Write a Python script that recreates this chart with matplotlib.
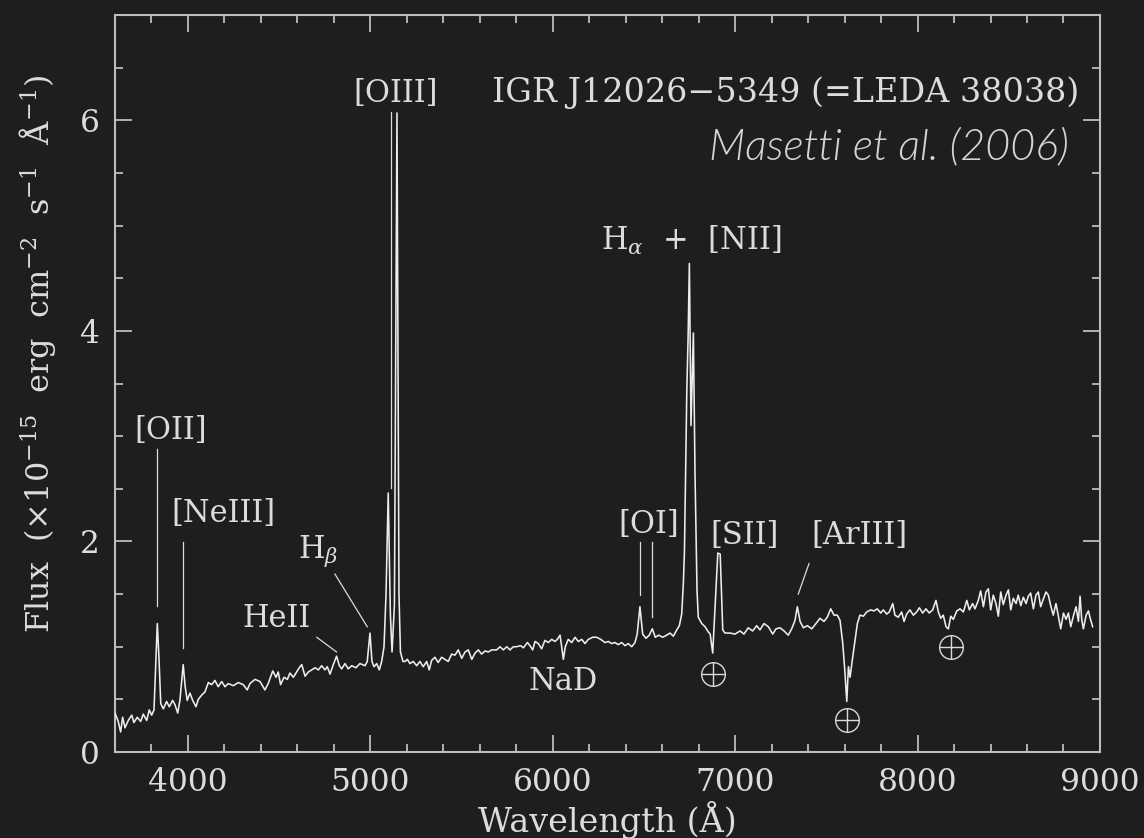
import matplotlib
matplotlib.use("Agg")
import matplotlib.pyplot as plt
from matplotlib.ticker import MultipleLocator

# ------------------------------------------------------------------
# Optical spectrum, wavelength (A) and flux (1e-15 erg/cm2/s/A)
# ------------------------------------------------------------------
wave = [
    3600, 3618, 3631, 3642, 3655, 3673, 3692, 3704, 3722, 3741, 3755, 3774,
    3788, 3801, 3814, 3825, 3832, 3841, 3851, 3865, 3883, 3898, 3916, 3929,
    3944, 3956, 3966, 3974, 3985, 3996, 4011, 4026, 4044, 4057, 4075, 4093,
    4112, 4130, 4148, 4166, 4185, 4203, 4221, 4249, 4276, 4303, 4325, 4340,
    4368, 4395, 4422, 4440, 4465, 4483, 4495, 4508, 4527, 4545, 4559, 4578,
    4596, 4610, 4624, 4642, 4660, 4678, 4697, 4715, 4733, 4751, 4764, 4779,
    4797, 4815, 4830, 4843, 4861, 4879, 4898, 4921, 4943, 4971, 4983, 4998,
    5009, 5020, 5035, 5049, 5062, 5075, 5086, 5098, 5110, 5119, 5132, 5146,
    5157, 5165, 5179, 5190, 5203, 5217, 5235, 5254, 5272, 5290, 5309, 5323,
    5336, 5354, 5372, 5391, 5409, 5427, 5446, 5464, 5482, 5501, 5519, 5537,
    5556, 5574, 5592, 5610, 5629, 5647, 5665, 5693, 5711, 5729, 5748, 5766,
    5784, 5802, 5824, 5839, 5861, 5875, 5890, 5903, 5921, 5939, 5957, 5976,
    5994, 6012, 6025, 6040, 6049, 6058, 6069, 6085, 6104, 6122, 6140, 6159,
    6177, 6195, 6219, 6241, 6263, 6286, 6305, 6323, 6341, 6359, 6378, 6396,
    6414, 6433, 6451, 6463, 6478, 6493, 6511, 6529, 6546, 6562, 6581, 6603,
    6625, 6643, 6661, 6680, 6694, 6707, 6716, 6722, 6728, 6735, 6742, 6749,
    6758, 6771, 6780, 6786, 6791, 6798, 6817, 6835, 6853, 6863, 6877, 6890,
    6905, 6918, 6932, 6944, 6972, 6999, 7027, 7048, 7072, 7096, 7118, 7136,
    7158, 7182, 7206, 7224, 7246, 7268, 7291, 7310, 7328, 7341, 7356, 7374,
    7396, 7420, 7443, 7465, 7487, 7505, 7524, 7542, 7560, 7575, 7590, 7601,
    7612, 7621, 7630, 7642, 7657, 7670, 7684, 7703, 7721, 7743, 7761, 7779,
    7798, 7812, 7831, 7845, 7864, 7876, 7894, 7913, 7926, 7940, 7958, 7977,
    7995, 8010, 8028, 8046, 8064, 8083, 8101, 8114, 8127, 8141, 8156, 8169,
    8182, 8196, 8215, 8233, 8251, 8270, 8284, 8302, 8315, 8333, 8346, 8361,
    8375, 8388, 8401, 8415, 8430, 8443, 8456, 8470, 8485, 8498, 8511, 8525,
    8540, 8552, 8566, 8580, 8595, 8607, 8620, 8635, 8649, 8662, 8675, 8689,
    8704, 8717, 8730, 8744, 8759, 8772, 8785, 8800, 8814, 8827, 8840, 8854,
    8869, 8882, 8891, 8900, 8909, 8924, 8937, 8945, 8960,
]
flux = [
    0.37, 0.29, 0.19, 0.33, 0.23, 0.30, 0.35, 0.28, 0.33, 0.29, 0.36, 0.30,
    0.40, 0.35, 0.40, 0.90, 1.22, 0.90, 0.46, 0.41, 0.48, 0.43, 0.49, 0.45,
    0.37, 0.49, 0.68, 0.83, 0.62, 0.49, 0.56, 0.49, 0.43, 0.50, 0.54, 0.57,
    0.66, 0.64, 0.68, 0.62, 0.67, 0.62, 0.65, 0.63, 0.66, 0.64, 0.59, 0.65,
    0.69, 0.67, 0.59, 0.65, 0.77, 0.71, 0.76, 0.64, 0.71, 0.69, 0.75, 0.71,
    0.76, 0.80, 0.83, 0.72, 0.76, 0.78, 0.80, 0.78, 0.82, 0.78, 0.81, 0.74,
    0.83, 0.91, 0.82, 0.79, 0.84, 0.79, 0.82, 0.80, 0.84, 0.82, 0.86, 1.13,
    0.86, 0.81, 0.84, 0.78, 0.86, 1.00, 1.50, 2.46, 1.30, 0.95, 1.40, 6.07,
    1.50, 0.95, 0.86, 0.86, 0.88, 0.84, 0.86, 0.82, 0.86, 0.81, 0.86, 0.78,
    0.87, 0.90, 0.85, 0.90, 0.88, 0.86, 0.93, 0.92, 0.97, 0.89, 0.95, 0.97,
    0.88, 0.94, 0.97, 0.93, 0.96, 0.95, 0.97, 0.97, 1.00, 0.97, 1.00, 0.97,
    1.00, 1.00, 1.01, 0.99, 1.04, 1.01, 0.97, 1.05, 1.03, 0.98, 1.06, 1.04,
    1.07, 1.05, 1.07, 1.11, 1.00, 0.88, 1.00, 1.07, 1.04, 1.09, 1.05, 1.07,
    1.03, 1.07, 1.09, 1.09, 1.07, 1.04, 1.05, 1.03, 1.04, 1.02, 1.04, 1.01,
    1.03, 1.00, 1.04, 1.12, 1.38, 1.12, 1.08, 1.11, 1.17, 1.09, 1.11, 1.09,
    1.11, 1.13, 1.10, 1.16, 1.20, 1.31, 1.60, 1.90, 2.64, 3.43, 3.93, 4.64,
    3.10, 3.98, 2.64, 2.00, 1.53, 1.28, 1.22, 1.19, 1.14, 1.12, 0.94, 1.38,
    1.89, 1.88, 1.16, 1.13, 1.13, 1.12, 1.15, 1.12, 1.18, 1.15, 1.20, 1.16,
    1.22, 1.19, 1.12, 1.17, 1.18, 1.15, 1.11, 1.17, 1.25, 1.38, 1.24, 1.18,
    1.20, 1.17, 1.22, 1.27, 1.24, 1.28, 1.36, 1.30, 1.30, 1.25, 1.03, 0.78,
    0.48, 0.81, 0.71, 0.87, 1.06, 1.22, 1.30, 1.29, 1.33, 1.35, 1.34, 1.36,
    1.32, 1.35, 1.31, 1.33, 1.41, 1.30, 1.28, 1.33, 1.24, 1.31, 1.35, 1.30,
    1.33, 1.37, 1.32, 1.36, 1.32, 1.35, 1.44, 1.33, 1.27, 1.30, 1.19, 1.17,
    1.29, 1.26, 1.34, 1.36, 1.33, 1.44, 1.35, 1.41, 1.36, 1.44, 1.53, 1.38,
    1.52, 1.55, 1.35, 1.49, 1.41, 1.29, 1.52, 1.40, 1.49, 1.54, 1.35, 1.46,
    1.41, 1.49, 1.39, 1.47, 1.41, 1.48, 1.51, 1.36, 1.49, 1.52, 1.38, 1.45,
    1.52, 1.49, 1.39, 1.30, 1.41, 1.29, 1.17, 1.32, 1.26, 1.32, 1.19, 1.29,
    1.38, 1.24, 1.48, 1.26, 1.17, 1.30, 1.34, 1.28, 1.19,
]

# line identifications: text, centre wavelength, baseline flux
line_names = ["[OII]", "[NeIII]", "HeII", r"H$_\beta$", "[OIII]",
              "NaD", "[OI]", "[SII]", "[ArIII]"]
line_wave = [3907, 4195, 4485, 4713, 5138, 6057, 6528, 7051, 7682]
line_flux = [2.97, 2.18, 1.19, 1.84, 6.17, 0.59, 2.08, 1.98, 1.98]

# marker ticks from each label down to its feature
tick_wave0 = [3832, 3974, 4706, 4806, 5112, 6478, 6544, 7405]
tick_flux0 = [2.88, 1.99, 1.09, 1.69, 6.08, 1.99, 1.99, 1.79]
tick_wave1 = [3832, 3974, 4815, 4983, 5112, 6478, 6544, 7346]
tick_flux1 = [1.39, 0.99, 0.95, 1.19, 2.51, 1.49, 1.28, 1.50]

# telluric absorption bands
tell_wave = [6877, 7612, 8183]
tell_flux = [0.74, 0.30, 1.00]

BG = "#1e1e1e"
FG = "#dcdcdc"
AX = "#bdbdbd"
FS = 22

plt.rcParams["font.family"] = "DejaVu Serif"
plt.rcParams["mathtext.fontset"] = "dejavuserif"

fig = plt.figure(figsize=(11.44, 8.38), dpi=100, facecolor=BG)
ax = fig.add_axes([0.1005, 0.1026, 0.861, 0.8795], facecolor=BG)

ax.plot(wave, flux, color="#ededed", lw=1.15, zorder=3)

for w0, f0, w1, f1 in zip(tick_wave0, tick_flux0, tick_wave1, tick_flux1):
    ax.plot([w0, w1], [f0, f1], color=FG, lw=0.9, zorder=2)

for name, w, f in zip(line_names, line_wave, line_flux):
    ax.text(w, f, name, ha="center", va="baseline", fontsize=FS, color=FG)

ax.text(6264, 4.77, r"H$_\alpha$  +  [NII]", ha="left", va="baseline",
        fontsize=FS, color=FG)

# earth symbols for the telluric bands
ax.plot(tell_wave, tell_flux, ls="none", marker="o", ms=17, mfc="none",
        mec=FG, mew=1.0, zorder=3)
ax.plot(tell_wave, tell_flux, ls="none", marker="+", ms=17,
        mec=FG, mew=1.0, zorder=3)

ax.text(8885, 6.17, "IGR J12026\u22125349 (=LEDA 38038)", ha="right",
        va="baseline", fontsize=24, color=FG)
ax.text(8830, 5.63, "Masetti et al. (2006)", ha="right", va="baseline",
        fontsize=31, color="#d4d4d4", family="Lato", style="italic",
        weight=300)

ax.set_xlim(3600, 9000)
ax.set_ylim(0, 7)
ax.xaxis.set_major_locator(MultipleLocator(1000))
ax.xaxis.set_minor_locator(MultipleLocator(200))
ax.yaxis.set_major_locator(MultipleLocator(2))
ax.yaxis.set_minor_locator(MultipleLocator(0.5))

ax.tick_params(which="both", direction="in", top=True, right=True,
               colors=AX, labelcolor=FG, labelsize=FS + 0.5, width=1.3)
ax.tick_params(which="major", length=12, pad=11)
ax.tick_params(which="minor", length=6)
for s in ax.spines.values():
    s.set_color(AX)
    s.set_linewidth(1.5)

ax.set_xlabel("Wavelength (Å)", fontsize=24, color=FG, labelpad=2)
ax.set_ylabel(r"Flux  ($\times$10$^{-15}$  erg  cm$^{-2}$  s$^{-1}$  Å$^{-1}$)",
              fontsize=23, color=FG)
ax.yaxis.set_label_coords(-0.058, 0.54)

fig.savefig("out.png", dpi=100, facecolor=BG)
